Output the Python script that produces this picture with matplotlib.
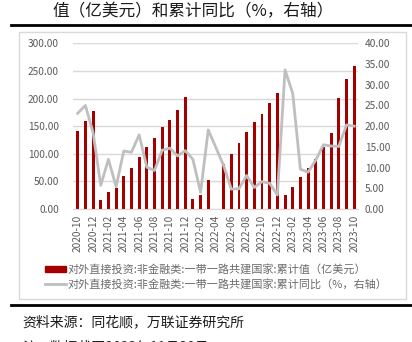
import numpy as np
import matplotlib as mpl
import matplotlib.pyplot as plt
from matplotlib.patches import Rectangle
from matplotlib.lines import Line2D

mpl.rcParams['font.family'] = ['Noto Sans CJK SC', 'DejaVu Sans']
mpl.rcParams['axes.unicode_minus'] = False

# months 2020-10 .. 2023-10
months = [f'{y}-{m:02d}' for y in range(2020, 2024) for m in range(1, 13)
          if (y, m) >= (2020, 10) and (y, m) <= (2023, 10)]

# cumulative value (100 million USD), 2022-04 missing
values = [141, 160, 177, 16, 30, 38, 59, 75, 95, 112, 129, 148, 161, 180, 203,
          18, 26, 52, np.nan, 81, 100, 119, 139, 157, 172, 192, 210,
          25, 40, 58, 75, 91, 113, 137, 201, 235, 259]
# cumulative yoy (%), right axis
yoy = [23.1, 25.0, 18.5, 5.7, 12.0, 5.4, 14.0, 13.7, 17.9, 10.1, 9.3, 14.2, 14.7,
       12.8, 14.1, 12.0, 4.0, 19.1, np.nan, 10.5, 4.8, 4.9, 8.1, 5.2, 6.6, 6.2,
       3.4, 33.6, 27.9, 9.6, 8.9, 11.8, 15.5, 15.2, 15.1, 20.3, 20.0]

bar_label = '对外直接投资:非金融类:一带一路共建国家:累计值（亿美元）'
line_label = '对外直接投资:非金融类:一带一路共建国家:累计同比（%，右轴）'

W, H = 412, 342
fig = plt.figure(figsize=(W / 100, H / 100), dpi=100)

def fx(px):
    return px / W

def fy(py):
    return 1 - py / H

# frame box and rules
fig.patches.append(Rectangle((fx(19), fy(299)), fx(406) - fx(19), fy(32) - fy(299),
                             transform=fig.transFigure, fill=False,
                             edgecolor='#D9D9D9', lw=1))
fig.lines.append(Line2D([fx(11), fx(412)], [fy(25), fy(25)], transform=fig.transFigure,
                        color='black', lw=2))
fig.lines.append(Line2D([fx(11), fx(412)], [fy(305), fy(305)], transform=fig.transFigure,
                        color='black', lw=2))

fig.text(fx(52), fy(12), '值（亿美元）和累计同比（%，右轴）', fontsize=12,
         ha='left', va='center', color='#1a1a1a')
fig.text(fx(22), fy(322), '资料来源：同花顺，万联证券研究所', fontsize=10,
         ha='left', va='center', color='#1a1a1a', style='italic')
# footnote, only its top is inside the picture (as in the reference)
fig.text(fx(22), fy(348), '注：数据截至2023年11月30日', fontsize=10,
         ha='left', va='center', color='#1a1a1a', style='italic')

ax = fig.add_axes([fx(72.7), fy(209), fx(358) - fx(72.7), fy(43.3) - fy(209)])
x = np.arange(len(months))
ax.bar(x, values, width=0.38, color='#A50000', zorder=2)
ax.set_ylim(0, 300)
ax.set_yticks(np.arange(0, 301, 50))
ax.set_yticklabels([f'{v:.2f}' for v in np.arange(0, 301, 50)])
ax.set_xlim(-0.65, len(months) - 0.5)
ax.set_xticks(x[::2])
ax.set_xticklabels(months[::2], rotation=90)
ax.grid(axis='y', color='#D9D9D9', lw=1, zorder=0)
ax.set_axisbelow(True)
for s in ['top', 'right', 'left']:
    ax.spines[s].set_visible(False)
ax.spines['bottom'].set_color('#D9D9D9')
ax.tick_params(axis='both', length=0, labelsize=7.3, colors='#595959')
ax.tick_params(axis='y', pad=10)
ax.tick_params(axis='x', pad=4)

ax2 = ax.twinx()
yoy_arr = np.array(yoy)
ok = ~np.isnan(yoy_arr)
ax2.plot(x[ok], yoy_arr[ok], color='#BFBFBF', lw=2)
ax2.set_ylim(0, 40)
ax2.set_yticks(np.arange(0, 41, 5))
ax2.set_yticklabels([f'{v:.2f}' for v in np.arange(0, 41, 5)])
for s in ax2.spines.values():
    s.set_visible(False)
ax2.tick_params(axis='y', length=0, labelsize=7.3, colors='#595959', pad=5)

handles = [Rectangle((0, 0), 1, 1, color='#A50000'),
           Line2D([], [], color='#BFBFBF', lw=2)]
fig.legend(handles, [bar_label, line_label], loc='upper left',
           bbox_to_anchor=(fx(45), fy(264)), frameon=False, fontsize=8,
           labelcolor='#6b6b6b', handlelength=1.9, handleheight=0.55,
           handletextpad=0.15, labelspacing=0.32, borderaxespad=0, borderpad=0)

fig.savefig('out.png', dpi=100)
